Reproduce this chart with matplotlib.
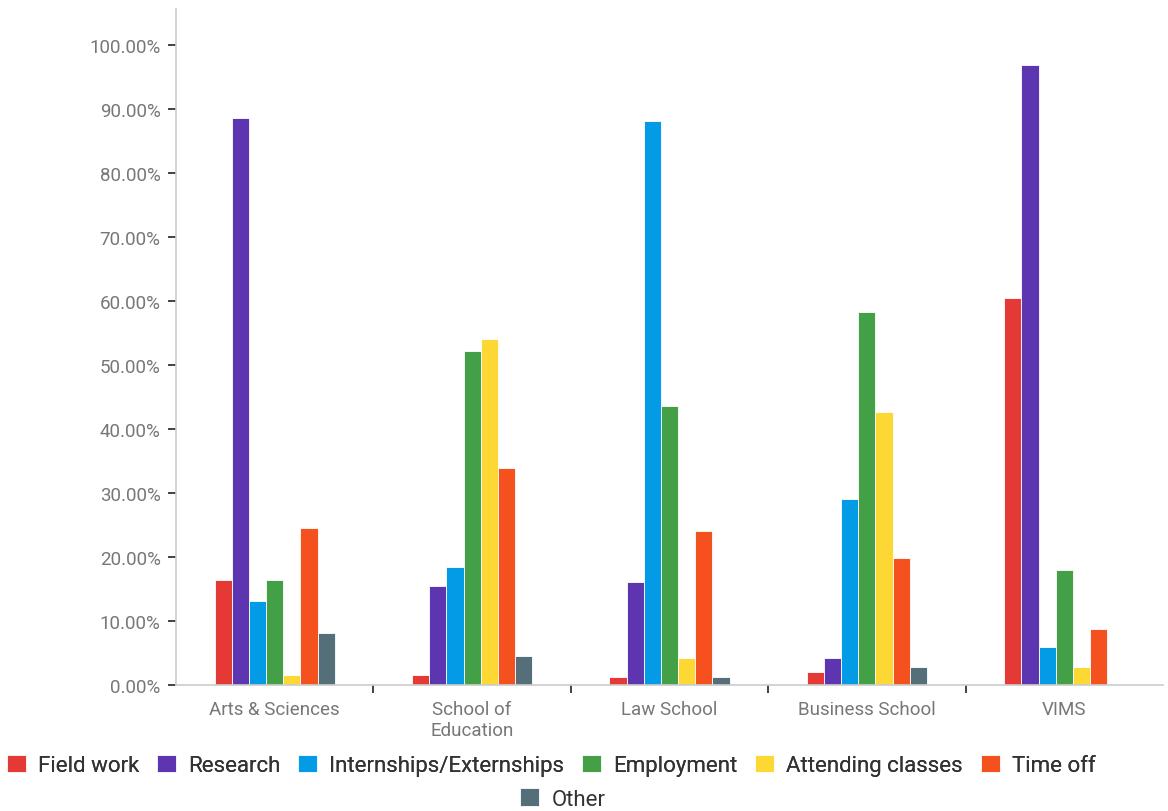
import matplotlib
matplotlib.use("Agg")
import matplotlib.pyplot as plt
import numpy as np

schools = ["Arts & Sciences", "School of\nEducation", "Law School", "Business School", "VIMS"]
series_names = ["Field work", "Research", "Internships/Externships", "Employment",
                "Attending classes", "Time off", "Other"]
field_work = [16.4, 1.6, 1.3, 2.1, 60.4]
research = [88.6, 15.5, 16.1, 4.2, 96.8]
internships = [13.2, 18.5, 88.0, 29.0, 5.9]
employment = [16.4, 52.1, 43.6, 58.3, 18.0]
attending = [1.6, 54.0, 4.3, 42.6, 2.9]
time_off = [24.6, 33.9, 24.1, 19.9, 8.8]
other = [8.1, 4.6, 1.3, 2.9, 0.0]
colors = ["#E53935", "#5E35B1", "#039BE5", "#43A047", "#FDD835", "#F4511E", "#546E7A"]
yticks = [0, 10, 20, 30, 40, 50, 60, 70, 80, 90, 100]

plt.rcParams["font.family"] = ["Roboto", "DejaVu Sans"]

fig = plt.figure(figsize=(11.68, 8.12), dpi=100)
ax = fig.add_axes([0.1507, 0.155, 0.845, 0.833])

values = [field_work, research, internships, employment, attending, time_off, other]
n = len(values)
x = np.arange(len(schools))
w = 0.087
handles = []
for i, (vals, c, name) in enumerate(zip(values, colors, series_names)):
    b = ax.bar(x + (i - (n - 1) / 2) * w, vals, w, color=c, edgecolor="white",
               linewidth=0.6, label=name)
    handles.append(b)

ax.set_xlim(-0.5, len(schools) - 0.5)
ax.set_ylim(0, 105.6)
ax.set_yticks(yticks)
ax.set_yticklabels([f"{v:.2f}%" for v in yticks])
ax.tick_params(axis="y", length=6, width=1.2, color="#222222", labelcolor="#777777",
               labelsize=13.5, pad=5)
ax.set_xticks(x)
ax.set_xticklabels(schools, linespacing=1.15)
ax.tick_params(axis="x", length=0, labelcolor="#777777", labelsize=13.5, pad=11)
ax.set_xticks(np.arange(len(schools) - 1) + 0.5, minor=True)
ax.tick_params(axis="x", which="minor", length=6, width=1.2, color="#222222")

for s in ["top", "right"]:
    ax.spines[s].set_visible(False)
for s in ["left", "bottom"]:
    ax.spines[s].set_color("#cccccc")
    ax.spines[s].set_linewidth(1.2)

legend_kw = dict(frameon=False, fontsize=16, handlelength=0.85, handleheight=0.85,
                 handletextpad=0.55, labelcolor="#333333", borderpad=0, borderaxespad=0)
leg1 = fig.legend(handles[:6], series_names[:6], loc="center", bbox_to_anchor=(0.472, 0.056),
                  ncol=6, columnspacing=0.8, **legend_kw)
leg2 = fig.legend(handles[6:], series_names[6:], loc="center", bbox_to_anchor=(0.482, 0.015),
                  ncol=1, **legend_kw)
fig.add_artist(leg1)

fig.savefig("out.png", dpi=100)
